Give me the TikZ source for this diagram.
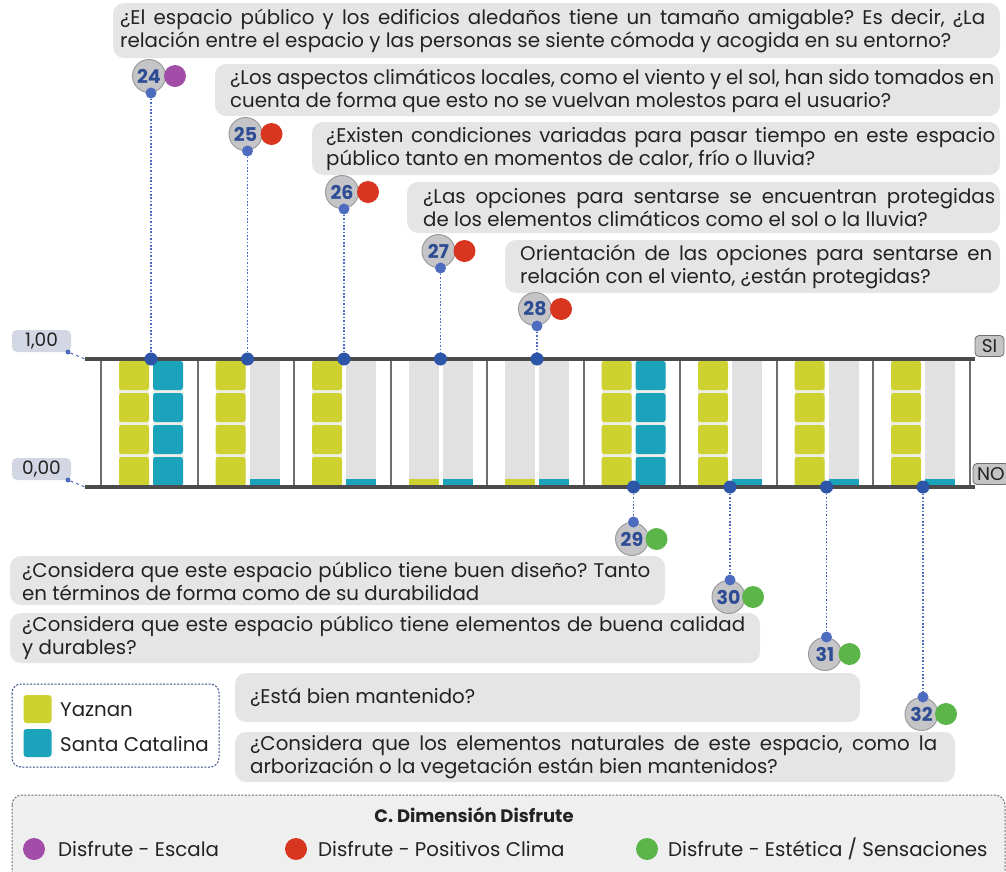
\documentclass[tikz,border=0pt]{standalone}
\usepackage{fontspec}
\setmainfont{Poppins}
\frenchspacing
\definecolor{qfill}{HTML}{E6E5E6}
\definecolor{yaz}{HTML}{CDD230}
\definecolor{sca}{HTML}{1AA3BA}
\definecolor{bargrey}{HTML}{E2E1E2}
\definecolor{gapcol}{HTML}{EFEEE6}
\definecolor{linedark}{HTML}{4B4B4B}
\definecolor{sepgrey}{HTML}{6E6E6E}
\definecolor{dotblue}{HTML}{2D55A8}
\definecolor{pinblue}{HTML}{4E6CBF}
\definecolor{bgrey}{HTML}{C5C5C7}
\definecolor{bgreyd}{HTML}{9C9C9E}
\definecolor{numblue}{HTML}{2E4C94}
\definecolor{cpurple}{HTML}{A24DA8}
\definecolor{cred}{HTML}{D8361E}
\definecolor{cgreen}{HTML}{5BB548}
\definecolor{axfill}{HTML}{D3D6E3}
\definecolor{sifill}{HTML}{C4C4C4}
\definecolor{txt}{HTML}{222222}
\begin{document}
\begin{tikzpicture}[x=1pt,y=-1pt,
  qbox/.style={fill=qfill, draw=none, rounded corners=11pt},
  qtext/.style={anchor=west, inner sep=0pt, align=left, text=txt, font=\fontsize{19.8}{23}\selectfont},
  badge/.style={circle, fill=bgrey, draw=bgreyd, line width=1pt, minimum size=33pt, inner sep=0pt, text=numblue, font=\bfseries\fontsize{19}{19}\selectfont},
  catdot/.style={circle, minimum size=22pt, inner sep=0pt},
  pindot/.style={circle, fill=pinblue, minimum size=11pt, inner sep=0pt},
  linedot/.style={circle, fill=dotblue, minimum size=13pt, inner sep=0pt},
  conn/.style={draw=pinblue, line width=1.6pt, dash pattern=on 1.6pt off 1.8pt},
  axlab/.style={fill=axfill, rounded corners=5pt, minimum width=59pt, minimum height=22pt, inner sep=0pt, text=txt, font=\fontsize{18.5}{18.5}\selectfont},
  silab/.style={fill=sifill, draw=sepgrey, line width=0.8pt, rounded corners=4pt, minimum height=21pt, inner sep=2pt, text=txt, font=\fontsize{18.5}{18.5}\selectfont},
  legtext/.style={anchor=west, inner sep=0pt, text=txt, font=\fontsize{19.8}{19.8}\selectfont}
]
\useasboundingbox (0,0) rectangle (1006,871);
\begin{scope}
\clip (0,0) rectangle (1006,871);

% ---------- question boxes (top) ----------
\draw[qbox] (113,3) rectangle (1000,58);
\node[qtext] (t24) at (120,31) {\makebox[865pt][s]{¿El espacio público y los edificios aledaños tiene un tamaño amigable? Es decir, ¿La}\\relación entre el espacio y las personas se siente cómoda y acogida en su entorno?};
\draw[qbox] (215,64) rectangle (1000,116);
\node[qtext] (t25) at (230,91) {\makebox[764pt][s]{¿Los aspectos climáticos locales, como el viento y el sol, han sido tomados en}\\cuenta de forma que esto no se vuelvan molestos para el usuario?};
\draw[qbox] (312,122) rectangle (1000,175);
\node[qtext] (t26) at (326,149) {\makebox[669pt][s]{¿Existen condiciones variadas para pasar tiempo en este espacio}\\público tanto en momentos de calor, frío o lluvia?};
\draw[qbox] (407,182) rectangle (1000,233);
\node[qtext] (t27) at (423,208) {\makebox[572pt][s]{¿Las opciones para sentarse se encuentran protegidas}\\de los elementos climáticos como el sol o la lluvia?};
\draw[qbox] (505,240) rectangle (1000,293);
\node[qtext] (t28) at (520,267) {\makebox[472pt][s]{Orientación de las opciones para sentarse en}\\relación con el viento, ¿están protegidas?};

% ---------- question boxes (bottom) ----------
\draw[qbox] (10,556) rectangle (665,605);
\node[qtext] (t29) at (22,581) {\makebox[628pt][s]{¿Considera que este espacio público tiene buen diseño? Tanto}\\en términos de forma como de su durabilidad};
\draw[qbox] (10,613) rectangle (760,663);
\node[qtext] (t30) at (22,638) {\makebox[723pt][s]{¿Considera que este espacio público tiene elementos de buena calidad}\\y durables?};
\draw[qbox] (235,673) rectangle (860,722);
\node[qtext] (t31) at (250,697) {¿Está bien mantenido?};
\draw[qbox] (235,732) rectangle (955,782);
\node[qtext] (t32) at (250,757) {\makebox[687pt][s]{¿Considera que los elementos naturales de este espacio, como la}\\arborización o la vegetación están bien mantenidos?};

% ---------- bars ----------
\foreach \i/\ya/\sb in {0/1/1,1/1/0,2/1/0,3/0/0,4/0/0,5/1/1,6/1/0,7/1/0,8/1/0}{
  \pgfmathsetmacro{\L}{101+96.5*\i}
  \ifnum\ya=1
    \fill[gapcol] (\L+18,361) rectangle (\L+48,485);
    \foreach \k in {0,1,2,3}{\fill[yaz, rounded corners=2.5pt] (\L+18,361+32*\k) rectangle (\L+48,390+32*\k);}
  \else
    \fill[bargrey] (\L+18,361) rectangle (\L+48,485);
    \fill[yaz] (\L+18,479) rectangle (\L+48,485);
  \fi
  \ifnum\sb=1
    \fill[gapcol] (\L+52,361) rectangle (\L+82,485);
    \foreach \k in {0,1,2,3}{\fill[sca, rounded corners=2.5pt] (\L+52,361+32*\k) rectangle (\L+82,390+32*\k);}
  \else
    \fill[bargrey] (\L+52,361) rectangle (\L+82,485);
    \fill[sca] (\L+52,479) rectangle (\L+82,485);
  \fi
}
\foreach \i in {0,...,9}{
  \draw[sepgrey, line width=2pt] (101+96.5*\i,359) -- (101+96.5*\i,487);
}

% ---------- axis lines ----------
\coordinate (tl) at (85,359);
\coordinate (tr) at (975,359);
\coordinate (bl) at (85,487);
\coordinate (br) at (975,487);
\draw[linedark, line width=4pt] (tl) -- (tr);
\draw[linedark, line width=4pt] (bl) -- (br);

\node[axlab] (one) at (41.5,341) {1,00};
\node[axlab] (zero) at (41.5,469) {0,00};
\node[circle, fill=pinblue, minimum size=5pt, inner sep=0pt] (onedot) at (68,352) {};
\node[circle, fill=pinblue, minimum size=5pt, inner sep=0pt] (zerodot) at (68,480) {};
\draw[pinblue, line width=1pt, dashed] (onedot) -- (tl);
\draw[pinblue, line width=1pt, dashed] (zerodot) -- (bl);
\node[silab, minimum width=29pt] (si) at (989.5,346) {SI};
\node[silab, minimum width=36pt] (no) at (991,474) {NO};

% ---------- badges (top) ----------
\foreach \n/\x/\py/\c in {24/151/93/cpurple,25/247.5/151/cred,26/344/209/cred,27/440.5/268/cred,28/537/326/cred}{
  \node[badge] (b\n) at (\x-2,\py-17) {\n};
  \node[catdot, fill=\c] (c\n) at (\x+24,\py-17) {};
  \node[pindot] (p\n) at (\x,\py) {};
  \node[linedot] (l\n) at (\x,359) {};
  \draw[conn] (p\n) -- (l\n);
}
% ---------- badges (bottom) ----------
\foreach \n/\x/\py in {29/633.5/522,30/730/580,31/826.5/637,32/923/697}{
  \node[badge] (b\n) at (\x-1.5,\py+17) {\n};
  \node[catdot, fill=cgreen] (c\n) at (\x+23,\py+17) {};
  \node[pindot] (p\n) at (\x,\py) {};
  \node[linedot] (l\n) at (\x,487) {};
  \draw[conn] (l\n) -- (p\n);
}

% ---------- legend (sites) ----------
\draw[pinblue!70!black, line width=1pt, dash pattern=on 2pt off 1.5pt, fill=white, rounded corners=9pt] (12,684) rectangle (219,767);
\node[fill=yaz, rounded corners=3pt, minimum size=28pt, inner sep=0pt] (ly) at (37.5,709) {};
\node[fill=sca, rounded corners=3pt, minimum size=28pt, inner sep=0pt] (ls) at (37.5,743) {};
\node[legtext] (lyt) at (60,710) {Yaznan};
\node[legtext] (lst) at (60,744) {Santa Catalina};

% ---------- legend (categories) ----------
\draw[sepgrey, line width=1pt, dash pattern=on 2pt off 1.5pt, fill=qfill!60, rounded corners=10pt] (12,795) rectangle (1005,890);
\node[inner sep=0pt, text=txt, font=\bfseries\fontsize{18}{18}\selectfont] (title) at (474,815) {C. Dimensión Disfrute};
\node[catdot, fill=cpurple] (k1) at (34,849) {};
\node[legtext] (k1t) at (58,849) {Disfrute - Escala};
\node[catdot, fill=cred] (k2) at (296,849) {};
\node[legtext] (k2t) at (318,849) {Disfrute - Positivos Clima};
\node[catdot, fill=cgreen] (k3) at (647,849) {};
\node[legtext] (k3t) at (668,849) {Disfrute - Estética / Sensaciones};
\end{scope}
\end{tikzpicture}
\end{document}
